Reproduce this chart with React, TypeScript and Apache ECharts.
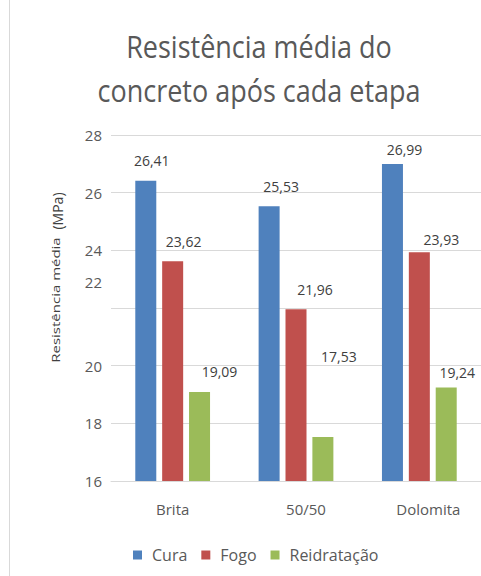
import React, { useEffect, useRef } from "react";
import * as echarts from "echarts";

const categories = ["Brita", "50/50", "Dolomita"];
const seriesNames = ["Cura", "Fogo", "Reidratação"];
const cura = [26.41, 25.53, 26.99];
const fogo = [23.62, 21.96, 23.93];
const reidratacao = [19.09, 17.53, 19.24];
const yTicks = [16, 18, 20, 22, 24, 26, 28];

const colors = ["#4F81BD", "#C0504D", "#9BBB59"];
const FONT = "Open Sans";

// label placement tweaks (x, y) per series / category, to mimic the source
const labelShift = [
  [[6, -8], [12, -8], [12, -3]],
  [[11, -8], [19, -8], [22, -1]],
  [[20, -8], [16, -68], [11, -3]],
];
// left padding of category labels, to mimic the source
const catPad = [0, 20, 18];

export default function App() {
  const ref = useRef<HTMLDivElement>(null);
  useEffect(() => {
    if (!ref.current) return;
    document.body.style.margin = "0";
    const chart = echarts.init(ref.current, undefined, { renderer: "svg" });
    const values = [cura, fogo, reidratacao];
    const series = values.map((arr, si) => ({
      name: seriesNames[si],
      type: "bar",
      barWidth: 21,
      barGap: "28%",
      itemStyle: { color: colors[si] },
      data: arr.map((v, ci) => ({
        value: v,
        label: { offset: labelShift[si][ci] },
      })),
      label: {
        show: true,
        position: "top",
        color: "#404040",
        fontSize: 14,
        fontFamily: FONT,
        formatter: (p: any) => p.value.toFixed(2).replace(".", ","),
      },
    }));
    const rich: any = {};
    catPad.forEach((p, i) => {
      rich["c" + i] = {
        color: "#595959",
        fontSize: 15,
        fontFamily: FONT,
        padding: [0, 0, 0, p],
      };
    });
    chart.setOption({
      animation: false,
      textStyle: { fontFamily: FONT },
      grid: { left: 111, right: 0, top: 135, bottom: 95 },
      legend: {
        data: seriesNames,
        left: 128,
        top: 542,
        icon: "rect",
        itemWidth: 9,
        itemHeight: 9,
        itemGap: 14,
        textStyle: {
          color: "#595959",
          fontSize: 16,
          fontFamily: FONT,
          padding: [0, 0, 0, 5],
        },
      },
      xAxis: {
        type: "category",
        data: categories,
        axisLine: { lineStyle: { color: "#d9d9d9" } },
        axisTick: { show: false },
        axisLabel: {
          margin: 20,
          formatter: (v: string) => {
            const i = categories.indexOf(v);
            return "{c" + i + "|" + v + "}";
          },
          rich,
        },
      },
      yAxis: {
        type: "value",
        min: yTicks[0],
        max: yTicks[yTicks.length - 1],
        interval: 2,
        axisLine: { show: false },
        axisTick: { show: false },
        splitLine: { lineStyle: { color: "#d9d9d9" } },
        axisLabel: {
          color: "#595959",
          fontSize: 15,
          margin: 9,
          fontFamily: FONT,
          formatter: (v: number) => (v === 22 ? "" : String(v)),
        },
      },
      graphic: [
        {
          type: "line",
          shape: { x1: 9.5, y1: 0, x2: 9.5, y2: 576 },
          style: { stroke: "#d9d9d9", lineWidth: 1 },
        },
        {
          type: "text",
          x: 259,
          y: 68,
          scaleY: 1.15,
          style: {
            text: "Resistência média do\nconcreto após cada etapa",
            fill: "#595959",
            fontSize: 27,
            fontFamily: FONT,
            lineHeight: 38,
            textAlign: "center",
            textVerticalAlign: "middle",
          },
        },
        {
          type: "text",
          x: 102,
          y: 282,
          style: {
            text: "22",
            fill: "#595959",
            fontSize: 15,
            fontFamily: FONT,
            textAlign: "right",
            textVerticalAlign: "middle",
          },
        },
        {
          type: "text",
          x: 56,
          y: 300,
          rotation: Math.PI / 2,
          scaleX: 1.5,
          style: {
            text: "Resistência média",
            fill: "#404040",
            fontSize: 10,
            fontFamily: FONT,
            textAlign: "center",
            textVerticalAlign: "middle",
          },
        },
        {
          type: "text",
          x: 57,
          y: 211,
          rotation: Math.PI / 2,
          style: {
            text: "(MPa)",
            fill: "#404040",
            fontSize: 14,
            fontFamily: FONT,
            textAlign: "center",
            textVerticalAlign: "middle",
          },
        },
      ],
      series,
    });
    return () => chart.dispose();
  }, []);
  return <div ref={ref} style={{ width: 481, height: 576 }} />;
}
